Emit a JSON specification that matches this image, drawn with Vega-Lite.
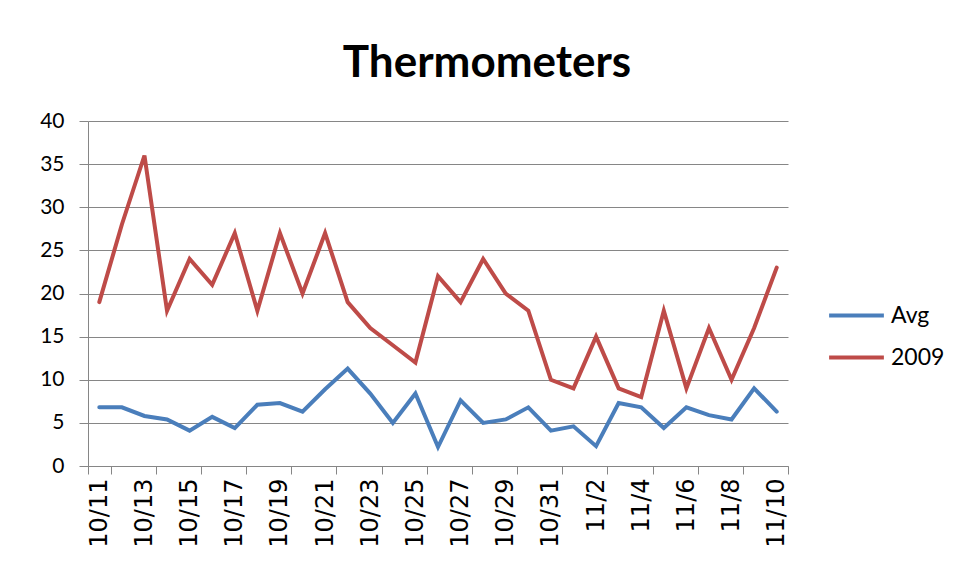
{
  "$schema": "https://vega.github.io/schema/vega-lite/v6.json",
  "width": 700,
  "height": 345,
  "autosize": "none",
  "padding": {"left": 88, "top": 121, "right": 168, "bottom": 114},
  "background": "white",
  "title": {
    "text": "Thermometers",
    "font": "Lato",
    "fontWeight": "bold",
    "fontSize": 44,
    "color": "#000000",
    "anchor": "middle",
    "frame": "group",
    "dx": 49,
    "offset": -11,
    "baseline": "alphabetic"
  },
  "data": {
    "values": [
      {"day": "10/11", "series": "Avg", "value": 6.8},
      {"day": "10/12", "series": "Avg", "value": 6.8},
      {"day": "10/13", "series": "Avg", "value": 5.8},
      {"day": "10/14", "series": "Avg", "value": 5.4},
      {"day": "10/15", "series": "Avg", "value": 4.1},
      {"day": "10/16", "series": "Avg", "value": 5.7},
      {"day": "10/17", "series": "Avg", "value": 4.4},
      {"day": "10/18", "series": "Avg", "value": 7.1},
      {"day": "10/19", "series": "Avg", "value": 7.3},
      {"day": "10/20", "series": "Avg", "value": 6.3},
      {"day": "10/21", "series": "Avg", "value": 8.9},
      {"day": "10/22", "series": "Avg", "value": 11.3},
      {"day": "10/23", "series": "Avg", "value": 8.4},
      {"day": "10/24", "series": "Avg", "value": 5.0},
      {"day": "10/25", "series": "Avg", "value": 8.4},
      {"day": "10/26", "series": "Avg", "value": 2.2},
      {"day": "10/27", "series": "Avg", "value": 7.6},
      {"day": "10/28", "series": "Avg", "value": 5.0},
      {"day": "10/29", "series": "Avg", "value": 5.4},
      {"day": "10/30", "series": "Avg", "value": 6.8},
      {"day": "10/31", "series": "Avg", "value": 4.1},
      {"day": "11/1", "series": "Avg", "value": 4.6},
      {"day": "11/2", "series": "Avg", "value": 2.3},
      {"day": "11/3", "series": "Avg", "value": 7.3},
      {"day": "11/4", "series": "Avg", "value": 6.8},
      {"day": "11/5", "series": "Avg", "value": 4.4},
      {"day": "11/6", "series": "Avg", "value": 6.8},
      {"day": "11/7", "series": "Avg", "value": 5.9},
      {"day": "11/8", "series": "Avg", "value": 5.4},
      {"day": "11/9", "series": "Avg", "value": 9.0},
      {"day": "11/10", "series": "Avg", "value": 6.3},
      {"day": "10/11", "series": "2009", "value": 19},
      {"day": "10/12", "series": "2009", "value": 28},
      {"day": "10/13", "series": "2009", "value": 36},
      {"day": "10/14", "series": "2009", "value": 18},
      {"day": "10/15", "series": "2009", "value": 24},
      {"day": "10/16", "series": "2009", "value": 21},
      {"day": "10/17", "series": "2009", "value": 27},
      {"day": "10/18", "series": "2009", "value": 18},
      {"day": "10/19", "series": "2009", "value": 27},
      {"day": "10/20", "series": "2009", "value": 20},
      {"day": "10/21", "series": "2009", "value": 27},
      {"day": "10/22", "series": "2009", "value": 19},
      {"day": "10/23", "series": "2009", "value": 16},
      {"day": "10/24", "series": "2009", "value": 14},
      {"day": "10/25", "series": "2009", "value": 12},
      {"day": "10/26", "series": "2009", "value": 22},
      {"day": "10/27", "series": "2009", "value": 19},
      {"day": "10/28", "series": "2009", "value": 24},
      {"day": "10/29", "series": "2009", "value": 20},
      {"day": "10/30", "series": "2009", "value": 18},
      {"day": "10/31", "series": "2009", "value": 10},
      {"day": "11/1", "series": "2009", "value": 9},
      {"day": "11/2", "series": "2009", "value": 15},
      {"day": "11/3", "series": "2009", "value": 9},
      {"day": "11/4", "series": "2009", "value": 8},
      {"day": "11/5", "series": "2009", "value": 18},
      {"day": "11/6", "series": "2009", "value": 9},
      {"day": "11/7", "series": "2009", "value": 16},
      {"day": "11/8", "series": "2009", "value": 10},
      {"day": "11/9", "series": "2009", "value": 16},
      {"day": "11/10", "series": "2009", "value": 23}
    ]
  },
  "mark": {"type": "line", "strokeWidth": 4, "strokeCap": "round"},
  "encoding": {
    "x": {
      "field": "day",
      "type": "ordinal",
      "sort": null,
      "bandPosition": 0.5,
      "scale": {"type": "band", "paddingInner": 0, "paddingOuter": 0},
      "axis": {
        "title": null,
        "values": ["10/11","10/13","10/15","10/17","10/19","10/21","10/23","10/25","10/27","10/29","10/31","11/2","11/4","11/6","11/8","11/10"],
        "tickBand": "extent",
        "labelAngle": 270,
        "labelAlign": "right",
        "labelBaseline": "middle",
        "labelFont": "DejaVu Sans",
        "labelFontSize": 24,
        "labelColor": "#000000",
        "labelPadding": 4,
        "tickSize": 8,
        "tickColor": "#868686",
        "domainColor": "#868686",
        "grid": false
      }
    },
    "y": {
      "field": "value",
      "type": "quantitative",
      "scale": {"domain": [0, 40], "nice": false},
      "axis": {
        "title": null,
        "values": [0, 5, 10, 15, 20, 25, 30, 35, 40],
        "labelFont": "Lato",
        "labelFontSize": 21,
        "labelColor": "#000000",
        "labelPadding": 15,
        "tickSize": 9,
        "tickColor": "#868686",
        "domainColor": "#868686",
        "gridColor": "#868686",
        "grid": true
      }
    },
    "color": {
      "field": "series",
      "type": "nominal",
      "scale": {"domain": ["Avg", "2009"], "range": ["#4A7EBB", "#BE4B48"]},
      "legend": {
        "title": null,
        "orient": "none",
        "legendX": 739,
        "legendY": 165,
        "padding": 0,
        "symbolType": "stroke",
        "symbolSize": 3000,
        "symbolStrokeWidth": 4,
        "labelFont": "Lato",
        "labelFontSize": 23,
        "labelColor": "#000000",
        "labelOffset": 5,
        "rowPadding": -6
      }
    }
  },
  "config": {"view": {"stroke": null}}
}
